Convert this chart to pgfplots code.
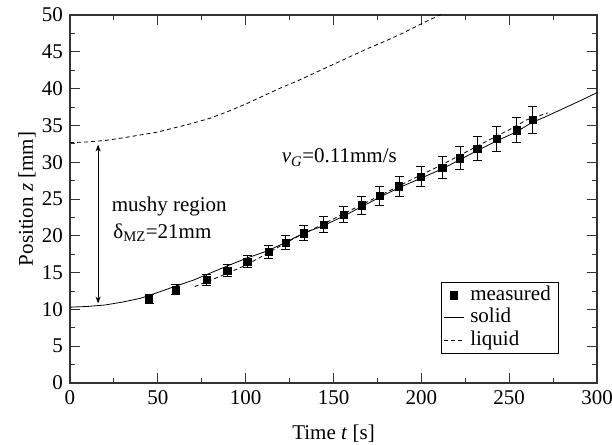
\documentclass[border=0pt]{standalone}
\usepackage{pgfplots}
\pgfplotsset{compat=1.18}
\usepackage{fontspec}
\setmainfont{Liberation Serif}
\usetikzlibrary{calc,arrows.meta}

\pgfplotstableread{
t z ez
45.0 11.45 0.57
60.3 12.7 0.63
77.8 14.0 0.70
89.5 15.3 0.76
100.9 16.5 0.82
112.9 17.8 0.89
122.8 19.05 0.95
133.2 20.35 1.02
144.2 21.55 1.08
155.6 22.9 1.14
166.0 24.15 1.21
176.4 25.45 1.27
187.3 26.75 1.34
199.8 28.05 1.40
211.9 29.3 1.46
222.0 30.55 1.53
231.8 31.85 1.59
242.8 33.15 1.66
254.2 34.35 1.72
263.3 35.75 1.79
}\measured

\pgfplotstableread{
t z
0 10.3
10 10.4
20 10.6
30 11.0
40 11.5
50 12.3
60 13.15
70 13.95
78 14.75
90 15.95
101 17.0
113 18.0
123 19.15
133 20.35
144 21.35
156 22.7
166 23.95
176 25.2
187 26.5
200 27.85
212 29.1
222 30.35
232 31.6
243 32.9
254 34.1
263 35.4
270 36.1
280 37.2
290 38.3
300 39.45
}\solid

\pgfplotstableread{
t z
71 13.1
80 13.95
90 14.95
100 16.0
110 17.3
120 18.65
130 19.95
140 21.1
150 22.3
160 23.5
170 24.7
180 25.9
190 27.1
200 28.3
210 29.45
220 30.7
230 31.95
240 33.2
250 34.4
260 35.75
272 36.7
}\shifted

\pgfplotstableread{
t z
0 32.65
10 32.75
20 32.95
30 33.3
40 33.7
50 34.1
60 34.7
70 35.3
80 36.0
90 36.9
100 37.9
110 39.0
120 40.1
130 41.1
140 42.2
150 43.3
160 44.4
170 45.5
180 46.5
190 47.6
200 48.8
210 49.95
215 50.5
}\liquid

\begin{document}
\fontsize{21}{25}\selectfont
\begin{tikzpicture}
\begin{axis}[
  scale only axis, width=527pt, height=368pt,
  xmin=0, xmax=300, ymin=0, ymax=50,
  xtick={0,50,...,300}, ytick={0,5,...,50},
  minor x tick num=1, minor y tick num=1,
  tick align=inside,
  xticklabel pos=bottom, yticklabel pos=left,
  major tick length=10pt, minor tick length=5pt,
  axis line style={line width=1.2pt, black!80},
  every tick/.style={black!80, line width=0.9pt},
  /pgf/number format/assume math mode=true,
  tick label style={font=\fontsize{21}{25}\selectfont},
  label style={font=\fontsize{21}{25}\selectfont},
  xlabel={Time \textit{t} [s]},
  ylabel={Position \textit{z} [mm]},
  xlabel style={yshift=-6pt},
  ylabel style={yshift=-8pt},
  legend style={at={(0.928,0.079)}, anchor=south east, draw=black, line width=0.6pt,
    font=\fontsize{21}{21}\selectfont, inner sep=2pt, row sep=0pt,
    nodes={inner xsep=6pt, inner ysep=1.5pt, text height=14.5pt, text depth=5pt}},
  legend cell align=left,
  legend image code/.code={\draw[mark repeat=2,mark phase=2]
     plot coordinates {(0pt,0pt) (10pt,0pt) (20pt,0pt)};},
]
\addplot[only marks, mark=square*, mark size=3.6pt, black,
  error bars/.cd, y dir=both, y explicit,
  error bar style={line width=0.8pt, black},
  error mark options={rotate=90, mark size=4.5pt, line width=0.8pt, black}]
  table[x=t, y=z, y error=ez]{\measured};
\addlegendentry{measured}
\addplot[black, line width=0.8pt, mark=none] table[x=t,y=z]{\solid};
\addlegendentry{solid}
\addplot[black, line width=0.8pt, mark=none, dash pattern=on 4pt off 3pt] table[x=t,y=z]{\liquid};
\addlegendentry{liquid}
\addplot[black, line width=0.8pt, mark=none, dash pattern=on 4pt off 3pt, forget plot] table[x=t,y=z]{\shifted};

\draw[{Stealth[length=7pt,width=5pt]}-{Stealth[length=7pt,width=5pt]}, line width=0.8pt]
  (axis cs:16,32.4) -- (axis cs:16,10.8);
\node[anchor=base west, inner sep=0pt] at (axis cs:23.7,23.3) {mushy region};
\node[anchor=base west, inner sep=0pt] at (axis cs:24.6,19.7) {δ\textsubscript{MZ}=21mm};
\node[anchor=base west, inner sep=0pt] at (axis cs:120.5,29.9) {\textit{v}\textsubscript{\textit{G}}=0.11mm/s};
\end{axis}
\pgfresetboundingbox
\path[use as bounding box] ($(current axis.south west)+(-70pt,-62pt)$) rectangle ($(current axis.north east)+(15pt,15pt)$);
\end{tikzpicture}
\end{document}
